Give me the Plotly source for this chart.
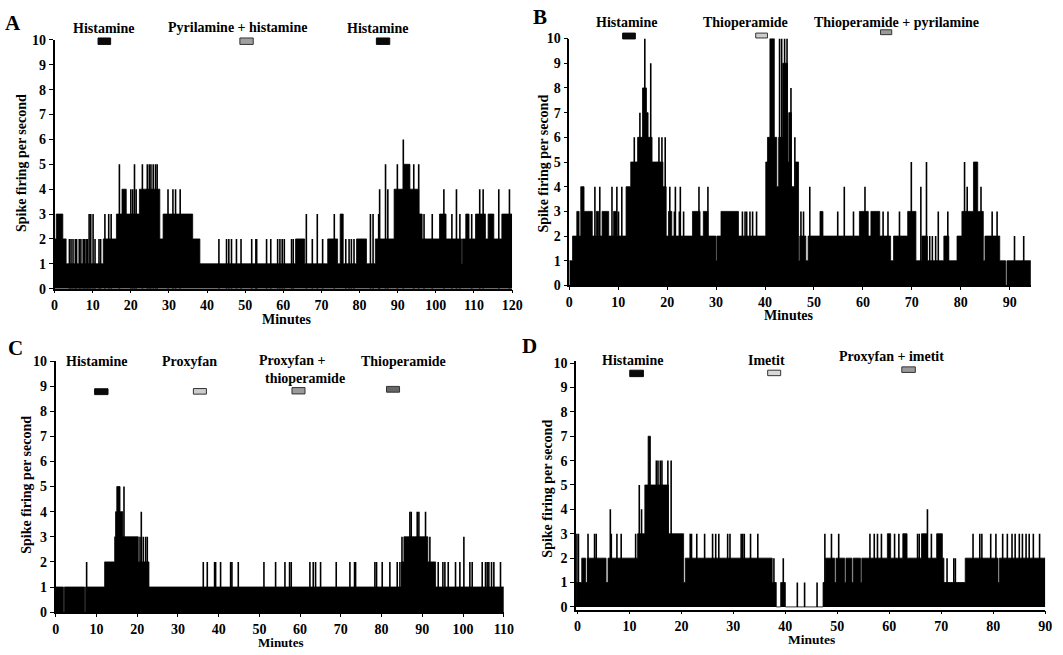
import plotly.graph_objects as go

W, H = 1063, 655
FONT = "Liberation Serif"

# ---------------- DATA ----------------
# Panel A: step segments (start minute, spike rate level), end of record
A_step_t = [0, 0.44, 2.16, 3.03, 12.77, 16.22, 17.68, 18.8, 22.25, 27.6, 28.46, 36.22, 38.11,
            63.2, 65.6, 71.63, 74.22, 74.9, 75.7, 79.2, 81.8, 84.13, 89.05, 91.63, 93.2, 95.5,
            96.4, 100.95, 102.67, 106.7, 106.95, 107.84, 108.7, 110.4, 113.0, 113.7, 115.2, 117.3]
A_step_v = [2, 3, 2, 1, 2, 3, 4, 3, 4, 2, 3, 2, 1,
            2, 1, 2, 1, 3, 1, 2, 1, 2, 4, 5, 4, 3,
            2, 3, 2, 1, 2, 3, 2, 3, 2, 3, 2, 3]
A_end = 120
A_spike_t = [3.89, 4.32, 4.84, 5.44, 5.78, 6.47, 6.90, 7.51, 7.85, 8.28, 8.63, 10.61, 11.65, 12.08,
             9.06, 9.49, 10.10, 13.2, 14.2, 14.84,
             17.0, 20.96, 23.03, 24.32, 24.84, 25.27, 25.87, 26.47, 26.9,
             20.0, 20.5, 21.39, 29.75, 31.04, 31.73, 32.94,
             43.1, 45.1, 45.7, 46.4, 47.7, 48.9, 51.7, 52.8, 53.0, 55.6, 56.7, 58.5, 59.1, 59.7,
             60.25, 62.15, 62.6, 67.6, 70.3, 76.37, 77.24, 77.84, 78.53,
             66.03, 68.9, 73.36, 82.84, 83.53, 85.0, 96.9, 99.05, 104.2, 106.3, 109.4,
             85.25, 87.4, 102.1, 105.4, 111.5, 112.4, 116.5, 119.3,
             86.8, 89.9, 94.2, 95.5,
             91.46]
A_spike_h = [2] * 14 + [3] * 6 + [5] * 9 + [4] * 7 + [2] * 23 + [3] * 11 + [4] * 8 + [5] * 4 + [6]

# Panel B
B_step_t = [0, 0.66, 1.53, 2.0, 2.34, 3.01, 4.69, 5.5, 6.03, 6.70, 8.05, 9.05, 9.72, 11.6, 12.55,
            13.96, 14.96, 15.77, 16.1, 16.91, 19.13, 19.8, 20.27, 20.94, 25.17, 26.72, 27.39, 28.33,
            29.97, 30.17, 31.0, 34.57, 40.15, 40.5, 41.0, 41.9, 42.4, 42.8, 43.6, 44.6, 44.85, 45.4,
            46.2, 46.85, 47.1, 48.34, 48.81, 51.23, 51.84, 59.29, 61.1, 61.64, 63.45, 65.67, 66.27,
            69.16, 70.84, 72.05, 73.19, 76.55, 77.56, 79.24, 80.24, 82.6, 83.47, 84.61, 84.95, 87.97,
            89.2, 89.45]
B_step_v = [1, 2, 3, 2, 4, 3, 2, 3, 2, 3, 2, 3, 2, 4, 5,
            6, 8, 7, 6, 5, 4, 2, 3, 2, 3, 2, 3, 2,
            1, 2, 3, 2, 5, 6, 10, 6, 4, 6, 9, 5, 7, 4,
            5, 1, 2, 1, 2, 3, 2, 3, 2, 3, 2, 1, 2,
            3, 1, 2, 1, 2, 1, 2, 3, 5, 3, 1, 2, 1,
            0, 1]
B_end = 94.34
B_spike_t = [5.23, 6.23, 8.72, 9.72, 10.73, 20.54, 21.68, 22.69, 26.5, 28.33, 49.15, 56.2, 60.43,
             71.85, 81.32, 84.14,
             10.06, 21.48, 22.49, 23.36, 35.38, 35.92, 36.25, 36.92, 37.46, 38.27, 47.34, 47.87,
             54.86, 58.08, 64.13, 65.13, 67.48, 75.41, 77.36, 86.42, 87.43,
             13.28, 18.32, 18.93, 19.6, 46.1,
             14.43,
             15.43, 42.97, 43.4, 44.0, 44.5,
             16.64,
             45.3,
             69.9, 73.0, 80.78,
             73.66, 74.2, 74.87, 90.99, 92.87]
B_spike_h = [4] * 16 + [3] * 21 + [6] * 5 + [7] + [10] * 5 + [9] + [8] + [5] * 3 + [2] * 5

# Panel C
C_step_t = [0, 1.9, 2.15, 7.1, 7.35, 12.02, 14.48, 14.7, 15.0, 15.8, 16.5, 20.28, 22.9, 84.9, 85.47,
            91.35, 93.24]
C_step_v = [1, 0, 1, 0, 1, 2, 3, 4, 5, 4, 3, 2, 1, 2, 3, 2, 1]
C_end = 110
C_spike_t = [7.6, 36.23, 37.21, 39.01, 39.26, 40.48, 42.94, 43.26, 44.82, 51.12, 53.98, 56.27, 57.41,
             57.82, 62.4, 63.22, 63.79, 65.02, 68.86, 72.22, 73.36, 73.61, 78.35, 78.76, 80.15,
             82.03, 83.83, 84.49, 93.89, 95.04, 95.53, 96.35, 98.14, 99.21, 101.66, 102.23, 104.69,
             105.5, 105.91, 106.32, 106.98, 107.55, 109.18,
             20.7, 21.5, 22.08, 22.49, 85.0, 91.85, 100.19,
             21.02, 86.94, 87.27, 88.74, 89.15, 90.78,
             16.77]
C_spike_h = [2] * 43 + [3] * 7 + [4] * 6 + [5]

# Panel D
D_step_t = [-0.25, 0.83, 1.59, 1.91, 5.51, 5.89, 11.58, 12.97, 13.6, 14.05, 17.52, 20.43, 20.75,
            37.47, 38.25, 39.1, 40.0, 47.25, 47.73, 49.5, 49.75, 51.4, 51.65, 52.8, 53.05, 54.45,
            54.7, 59.62, 60.25, 62.59, 63.41, 66.19, 67.33, 69.1, 70.2, 70.5, 74.6, 80.9, 81.15]
D_step_v = [1, 2, 1, 2, 1, 2, 3, 5, 7, 5, 3, 1, 2,
            1, 0, 1, 0, 1, 2, 1, 2, 1, 2, 1, 2, 1,
            2, 3, 2, 3, 2, 3, 2, 3, 2, 1, 2, 1, 2]
D_end = 90
D_spike_t = [-0.11, 0.2, 2.04, 3.3, 3.62, 6.52, 7.6, 8.42, 11.2, 21.7, 21.95, 22.96, 24.47, 26.0,
             26.6, 27.2, 28.9, 29.35, 31.5, 31.8, 32.1, 33.3, 34.7, 47.6, 48.87, 50.26, 56.27,
             57.1, 57.72, 58.48, 61.01, 61.83, 65.43, 65.75, 68.09, 76.1, 77.4, 77.8, 79.5, 80.5,
             81.8, 82.7, 83.6, 84.2, 85.0, 85.6, 86.3, 86.9, 87.7, 88.9,
             6.33, 12.34, 67.33,
             11.9,
             15.18, 15.5, 15.94, 16.26, 17.4, 18.03,
             37.8, 39.6, 71.1, 72.4, 72.7,
             42.3, 43.7, 46.1]
D_spike_h = [3] * 50 + [4] * 3 + [5] + [6] * 6 + [2] * 5 + [1] * 3

# Drug application bars (minutes)
A_drug_t0 = [11.4, 48.6, 84.4]
A_drug_t1 = [14.7, 52.1, 87.9]
B_drug_t0 = [10.9, 38.1, 63.6]
B_drug_t1 = [13.5, 40.5, 65.9]
C_drug_t0 = [9.56, 33.8, 58.0, 81.2]
C_drug_t1 = [12.85, 37.0, 61.2, 84.4]
D_drug_t0 = [10.07, 36.6, 62.4]
D_drug_t1 = [12.7, 39.1, 65.0]

A_x_ticks = list(range(0, 121, 10))
B_x_ticks = list(range(0, 91, 10))
C_x_ticks = list(range(0, 111, 10))
D_x_ticks = list(range(0, 91, 10))
Y_ticks = list(range(0, 11))

# ---------------- LAYOUT HELPERS ----------------
def px(x):
    return x / W


def py(y):
    return 1 - y / H


panels = {
    "A": dict(ax="", xdom=(51.3, 515.4), ydom=(288.3, 33.7), xr=[0, 120], yr=[0, 10],
              step=(A_step_t, A_step_v, A_end), spk=(A_spike_t, A_spike_h), xt=A_x_ticks),
    "B": dict(ax="2", xdom=(573.4, 1041.6), ydom=(285.0, 32.3), xr=[0, 94.34], yr=[0, 10],
              step=(B_step_t, B_step_v, B_end), spk=(B_spike_t, B_spike_h), xt=B_x_ticks),
    "C": dict(ax="3", xdom=(52.4, 507.0), ydom=(619.3, 362.3), xr=[0, 110], yr=[0, 10],
              step=(C_step_t, C_step_v, C_end), spk=(C_spike_t, C_spike_h), xt=C_x_ticks),
    "D": dict(ax="4", xdom=(580.3, 1056.2), ydom=(616.7, 362.7), xr=[-0.25, 90], yr=[-0.11, 10.07],
              step=(D_step_t, D_step_v, D_end), spk=(D_spike_t, D_spike_h), xt=D_x_ticks),
}

fig = go.Figure()
layout = {}
tickfont = dict(family=FONT, size=14, color="black", weight="bold")

for name, p in panels.items():
    xa = "x" + p["ax"]
    ya = "y" + p["ax"]
    ts, vs, end = p["step"]
    fig.add_trace(go.Scatter(
        x=list(ts) + [end], y=list(vs) + [vs[-1]],
        mode="lines", line=dict(shape="hv", color="black", width=0.8),
        fill="tozeroy", fillcolor="black", xaxis=xa, yaxis=ya,
        showlegend=False, hoverinfo="skip"))
    sx, sy = [], []
    for t, h in zip(*p["spk"]):
        sx += [t, t, None]
        sy += [0, h, None]
    fig.add_trace(go.Scatter(
        x=sx, y=sy, mode="lines", line=dict(color="black", width=1.6),
        xaxis=xa, yaxis=ya, showlegend=False, hoverinfo="skip"))
    layout["xaxis" + p["ax"]] = dict(
        domain=[px(p["xdom"][0]), px(p["xdom"][1])], range=p["xr"], anchor=ya,
        showline=True, linecolor="black", linewidth=1.5, ticks="outside", ticklen=3,
        tickwidth=1.2, tickcolor="black", tickvals=p["xt"], tickfont=tickfont,
        showgrid=False, zeroline=False, fixedrange=True)
    layout["yaxis" + p["ax"]] = dict(
        domain=[py(p["ydom"][0]), py(p["ydom"][1])], range=p["yr"], anchor=xa,
        showline=True, linecolor="black", linewidth=1.5, ticks="outside", ticklen=4,
        tickwidth=1.2, tickcolor="black", tickvals=Y_ticks, tickfont=tickfont,
        showgrid=False, zeroline=False, fixedrange=True)

# drug bars
shapes = []
def add_bars(axname, t0s, t1s, cols, ys):
    for t0, t1, c, (ya, yb) in zip(t0s, t1s, cols, ys):
        shapes.append(dict(type="rect", xref=axname, yref="paper", x0=t0, x1=t1,
                           y0=py(yb), y1=py(ya), fillcolor=c,
                           line=dict(color="#333333" if c != "#0a0a0a" else "#0a0a0a", width=1),
                           layer="above"))

add_bars("x", A_drug_t0, A_drug_t1, ["#0a0a0a", "#a0a0a0", "#0a0a0a"],
         [(31.7, 38.3)] * 3)
add_bars("x2", B_drug_t0, B_drug_t1, ["#0a0a0a", "#cccccc", "#9a9a9a"],
         [(26.7, 32.7), (26.7, 31.7), (23.3, 28.3)])
add_bars("x3", C_drug_t0, C_drug_t1, ["#0a0a0a", "#cccccc", "#9a9a9a", "#666666"],
         [(390.7, 396.7), (390.5, 396.2), (389.5, 396.0), (388.3, 394.2)])
add_bars("x4", D_drug_t0, D_drug_t1, ["#0a0a0a", "#d8d8d8", "#9a9a9a"],
         [(371.7, 378.3), (371.7, 377.3), (368.3, 374.0)])

# text
texts = [
    ("A", 9.5, 16.7, 21, 0), ("B", 543.6, 10.5, 21, 0), ("C", 11.8, 349.3, 21, 0), ("D", 533.4, 346.7, 21, 0),
    ("Histamine", 101.4, 21.7, 14, 0), ("Pyrilamine + histamine", 236.6, 21.3, 14, 0),
    ("Histamine", 378.6, 21.7, 14, 0),
    ("Histamine", 631.0, 15.7, 14, 0), ("Thioperamide", 752.6, 15.7, 14, 0),
    ("Thioperamide + pyrilamine", 904.9, 15.7, 14, 0),
    ("Histamine", 94.0, 362.3, 14, 0), ("Proxyfan", 188.3, 362.3, 14, 0),
    ("Proxyfan +", 292.4, 362.0, 14, 0), ("thioperamide", 305.2, 380.5, 14, 0),
    ("Thioperamide", 405.0, 362.3, 14, 0),
    ("Histamine", 637.1, 361.7, 14, 0), ("Imetit", 773.7, 361.7, 14, 0),
    ("Proxyfan + imetit", 900.5, 357.3, 14, 0),
    ("Minutes", 287.3, 319.5, 14, 0), ("Minutes", 795.8, 316.0, 14, 0),
    ("Minutes", 280.5, 650.5, 13, 0), ("Minutes", 818.9, 647.0, 13.5, 0),
    ("Spike firing per second", 17.6, 159.3, 14, -90), ("Spike firing per second", 547.0, 160.0, 14, -90),
    ("Spike firing per second", 22.0, 489.3, 14, -90), ("Spike firing per second", 550.4, 493.3, 14, -90),
]
annotations = []
for s, x, y, size, ang in texts:
    annotations.append(dict(text=s, x=px(x), y=py(y), xref="paper", yref="paper",
                            xanchor="center", yanchor="middle", showarrow=False, textangle=ang,
                            font=dict(family=FONT, size=size, color="black", weight="bold")))

fig.update_layout(width=W, height=H, margin=dict(l=0, r=0, t=0, b=0),
                  paper_bgcolor="white", plot_bgcolor="white",
                  shapes=shapes, annotations=annotations, **layout)

fig.write_html("out.html", config={"displayModeBar": False},
               post_script="document.body.style.margin='0px';document.body.style.overflow='hidden';")
